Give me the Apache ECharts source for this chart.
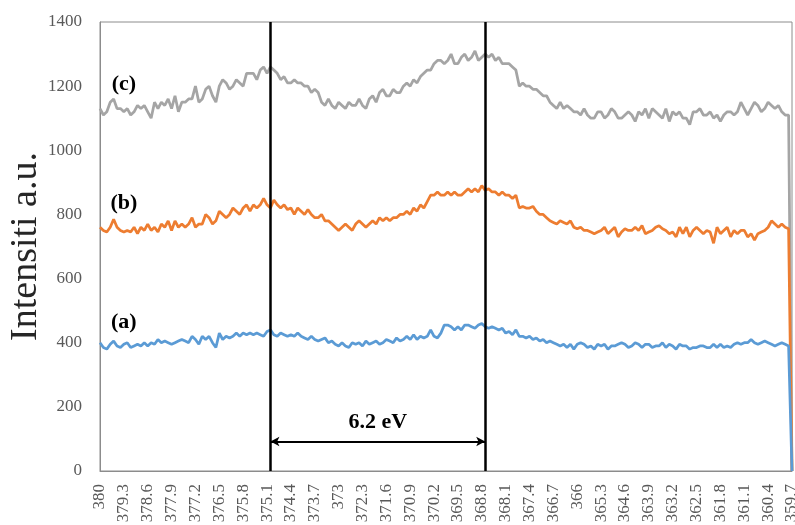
<!DOCTYPE html>
<html>
<head>
<meta charset="utf-8">
<script src="https://cdn.jsdelivr.net/npm/echarts@6/dist/echarts.min.js"></script>
<style>html,body{margin:0;padding:0;background:#fff;}#c{width:795px;height:525px;}</style>
</head>
<body>
<div id="c"></div>
<script>
// Binding energy categories 380 -> 359.7 in 0.1 eV steps
const categories = [];
for (let i = 0; i <= 203; i++) categories.push(String((3800 - i) / 10));

const seriesC = [
1130,1110,1120,1150,1160,1130,1130,1120,1130,1110,1120,1140,1130,
1140,1120,1100,1150,1130,1150,1140,1160,1130,1170,1120,1150,1150,1160,1160,1200,1150,
1160,1190,1200,1170,1150,1200,1220,1210,1190,1200,1220,1210,
1200,1240,1240,1240,1220,1250,1260,1240,1260,
1250,1240,1220,1230,1210,1210,
1220,1210,1210,1200,1200,1180,1190,1180,1150,1140,1160,
1140,1130,1150,1140,1130,1150,1140,1140,1160,1140,1130,1160,1170,1150,1180,
1190,1170,1170,1190,1180,1180,1200,1210,1200,1220,1210,1230,
1240,1250,1250,1270,1280,1280,1270,
1280,1300,1270,1270,1290,1300,1280,1290,1310,1280,1290,1300,
1290,1300,1280,1290,1270,1270,1270,1260,1250,1200,
1210,1200,1200,1190,1190,1180,1170,1170,
1150,1140,1130,1150,1130,1140,1130,1120,1120,
1110,1130,1110,1100,1100,1120,1120,1100,1110,1130,
1120,1100,1100,1110,1120,1110,1090,1120,1110,1130,
1100,1130,1120,1110,1100,1130,1090,1120,1110,1120,
1100,1100,1080,1120,1120,1130,1110,1110,1120,1100,
1110,1090,1110,1120,1120,1110,1120,1150,1130,1110,
1130,1150,1140,1120,1130,1150,1140,1130,1140,1120,1110,1110,
0];

const seriesB = [
760,750,745,760,785,760,750,745,750,745,760,740,760,
750,770,750,760,745,770,760,780,750,780,760,770,760,770,790,760,770,
770,800,790,770,780,810,800,790,800,820,810,800,
820,830,810,830,820,830,850,830,820,
845,830,820,830,815,820,
800,820,810,800,815,800,790,790,800,780,780,
770,760,750,760,770,760,750,770,780,770,760,770,780,770,790,
780,790,780,790,790,800,800,810,800,820,810,830,
820,840,860,860,870,860,860,
870,860,870,860,860,870,880,870,880,870,890,875,
880,870,870,860,870,860,860,850,860,820,
825,820,820,825,810,800,800,790,
780,775,770,780,775,770,780,760,755,
760,750,750,745,740,745,750,760,740,750,
760,730,745,755,750,750,760,750,765,740,
745,750,760,765,755,750,740,745,730,760,
740,760,730,750,760,750,740,750,745,710,
760,740,750,760,730,750,740,750,750,730,
740,720,740,745,750,760,780,770,760,770,760,755,
0];

const seriesA = [
400,385,380,395,405,390,385,395,400,385,390,395,390,
400,390,400,395,410,400,405,400,395,400,405,410,405,400,420,410,395,
420,410,420,400,385,430,410,420,415,420,430,420,
430,425,430,425,430,425,420,435,440,
425,420,430,425,420,425,
420,430,420,415,410,420,410,405,410,415,400,
405,395,390,400,390,385,400,395,400,390,405,395,400,405,395,
400,410,405,400,415,405,410,420,410,425,410,420,
415,420,440,420,415,430,455,
455,450,440,450,440,455,455,450,445,455,460,450,
445,450,445,440,445,430,435,425,440,420,
420,415,420,410,415,405,410,400,
405,400,395,390,395,385,395,380,395,
400,395,385,390,380,395,390,395,380,390,
390,395,400,395,385,390,400,395,385,395,
395,385,390,390,400,385,395,390,380,395,
390,390,380,385,385,390,390,385,385,395,
385,395,385,390,385,395,400,395,400,400,
410,400,395,400,405,400,395,390,395,400,395,390,
0];

const yTicks = { min: 0, max: 1400, interval: 200 };
const peakLines = ['375', '368.7'];
const splitLabel = '6.2 eV';
const curveLabels = [
  { text: '(c)', x: '379.3', y: 1205 },
  { text: '(b)', x: '379.3', y: 835 },
  { text: '(a)', x: '379.3', y: 463 }
];

const serif = '"Liberation Serif", "DejaVu Serif", serif';
const chart = echarts.init(document.getElementById('c'), null, { renderer: 'canvas' });

function labelPoint(l) {
  return {
    coord: [l.x, l.y], symbol: 'circle', symbolSize: 0,
    label: { show: true, formatter: l.text, position: 'inside', color: '#000',
      fontFamily: serif, fontWeight: 'bold', fontSize: 22 }
  };
}

chart.setOption({
  animation: false,
  backgroundColor: '#fff',
  grid: { left: 100, right: 3, top: 22, bottom: 54, show: true, borderColor: '#8c8c8c', borderWidth: 1,
    containLabel: false, outerBoundsMode: 'none' },
  xAxis: {
    type: 'category', data: categories, boundaryGap: false,
    axisLine: { lineStyle: { color: '#8c8c8c', width: 1 } },
    axisTick: { show: false },
    axisLabel: { rotate: 90, interval: 6, color: '#595959', fontFamily: serif, fontSize: 17, margin: 13 },
    splitLine: { show: false }
  },
  yAxis: {
    type: 'value', min: yTicks.min, max: yTicks.max, interval: yTicks.interval,
    name: 'Intensiti a.u.', nameLocation: 'middle', nameGap: 55, nameMoveOverlap: false,
    nameTextStyle: { fontFamily: serif, fontSize: 38, color: '#262626' },
    axisLine: { show: true, lineStyle: { color: '#8c8c8c', width: 1 } },
    axisTick: { show: false },
    axisLabel: { color: '#595959', fontFamily: serif, fontSize: 17, margin: 18,
      formatter: function (v) { return String(v); } },
    splitLine: { show: false }
  },
  series: [
    {
      name: '(c)', type: 'line', data: seriesC, symbol: 'none',
      lineStyle: { color: '#A5A5A5', width: 2.75 }, itemStyle: { color: '#A5A5A5' },
      markPoint: { data: [labelPoint(curveLabels[0])] }
    },
    {
      name: '(b)', type: 'line', data: seriesB, symbol: 'none',
      lineStyle: { color: '#ED7D31', width: 2.75 }, itemStyle: { color: '#ED7D31' },
      markPoint: { data: [labelPoint(curveLabels[1])] }
    },
    {
      name: '(a)', type: 'line', data: seriesA, symbol: 'none',
      lineStyle: { color: '#5B9BD5', width: 2.75 }, itemStyle: { color: '#5B9BD5' },
      markPoint: { data: [labelPoint(curveLabels[2])] },
      markLine: {
        silent: true, animation: false, symbol: ['none', 'none'],
        lineStyle: { color: '#000', width: 2.5, type: 'solid' },
        label: { show: false },
        data: [
          { xAxis: peakLines[0] },
          { xAxis: peakLines[1] },
          [
            { coord: [peakLines[0], 92], symbol: 'arrow', symbolSize: [7, 9] },
            { coord: [peakLines[1], 92], symbol: 'arrow', symbolSize: [7, 9],
              lineStyle: { color: '#000', width: 2, type: 'solid' },
              label: { show: true, position: 'middle', formatter: splitLabel, color: '#000',
                fontFamily: serif, fontWeight: 'bold', fontSize: 22, distance: 8 } }
          ]
        ]
      }
    }
  ]
});
</script>
</body>
</html>
